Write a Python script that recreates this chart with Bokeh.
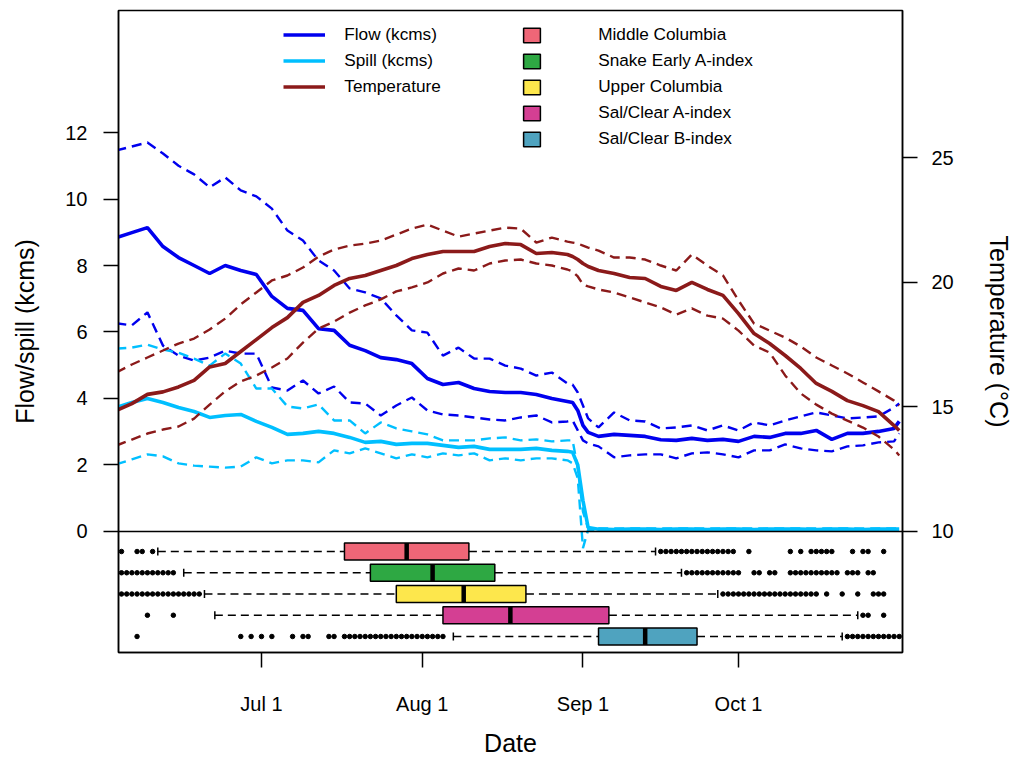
import pandas as pd
from bokeh.plotting import figure
from bokeh.models import (Range1d, LinearAxis, FixedTicker, Span, Legend, LegendItem,
                          ColumnDataSource)
from bokeh.embed import file_html
from bokeh.resources import INLINE

FONT = "Liberation Sans"

# ---------------- daily river conditions (median and interval) ----------------
dates = [
    "2021-06-03", "2021-06-06", "2021-06-09", "2021-06-12", "2021-06-15",
    "2021-06-18", "2021-06-21", "2021-06-24", "2021-06-27", "2021-06-30",
    "2021-07-03", "2021-07-06", "2021-07-09", "2021-07-12", "2021-07-15",
    "2021-07-18", "2021-07-21", "2021-07-24", "2021-07-27", "2021-07-30",
    "2021-08-02", "2021-08-05", "2021-08-08", "2021-08-11", "2021-08-14",
    "2021-08-17", "2021-08-20", "2021-08-23", "2021-08-26", "2021-08-29",
    "2021-08-30", "2021-08-31", "2021-09-01", "2021-09-02",
    "2021-09-04", "2021-09-07", "2021-09-10", "2021-09-13", "2021-09-16",
    "2021-09-19", "2021-09-22", "2021-09-25", "2021-09-28", "2021-10-01",
    "2021-10-04", "2021-10-07", "2021-10-10", "2021-10-13", "2021-10-16",
    "2021-10-19", "2021-10-22", "2021-10-25", "2021-10-28", "2021-10-31",
    "2021-11-01",
]

flow_med = [8.84, 8.99, 9.14, 8.57, 8.24, 8.0, 7.76, 8.0, 7.85, 7.73,
            7.07, 6.71, 6.65, 6.1, 6.05, 5.6, 5.44, 5.23, 5.17, 5.05,
            4.6, 4.42, 4.48, 4.3, 4.21, 4.18, 4.18, 4.12, 4.0, 3.91,
            3.88, 3.64, 3.19, 2.98,
            2.86, 2.92, 2.89, 2.86, 2.76, 2.74, 2.8, 2.74, 2.77, 2.71,
            2.86, 2.83, 2.95, 2.95, 3.04, 2.77, 2.95, 2.95, 3.01, 3.1,
            3.31]
flow_hi = [11.46, 11.58, 11.7, 11.37, 11.0, 10.74, 10.35, 10.65, 10.26, 10.08,
           9.71, 9.05, 8.75, 8.15, 7.85, 7.31, 7.19, 7.01, 6.5, 6.05,
           5.98, 5.29, 5.53, 5.2, 5.2, 4.99, 4.9, 4.69, 4.78, 4.45,
           4.42, 4.18, 3.79, 3.4,
           3.13, 3.58, 3.34, 3.31, 3.1, 3.13, 3.19, 3.04, 3.19, 3.04,
           3.28, 3.19, 3.34, 3.46, 3.58, 3.49, 3.4, 3.43, 3.46, 3.73,
           3.85]
flow_lo = [6.26, 6.2, 6.59, 5.59, 5.29, 5.14, 5.23, 5.44, 5.35, 5.35,
           4.33, 4.24, 4.54, 4.15, 4.36, 3.88, 3.85, 3.49, 3.79, 4.03,
           3.64, 3.52, 3.49, 3.43, 3.37, 3.34, 3.43, 3.49, 3.28, 3.31,
           3.34, 3.04, 2.74, 2.65,
           2.56, 2.23, 2.29, 2.32, 2.32, 2.2, 2.35, 2.38, 2.32, 2.23,
           2.44, 2.44, 2.62, 2.5, 2.44, 2.41, 2.56, 2.59, 2.68, 2.71,
           2.95]

spill_med = [3.73, 3.88, 4.0, 3.88, 3.73, 3.61, 3.43, 3.49, 3.52, 3.31,
             3.13, 2.92, 2.95, 3.01, 2.95, 2.83, 2.68, 2.71, 2.62, 2.65,
             2.65, 2.59, 2.53, 2.56, 2.47, 2.47, 2.47, 2.5, 2.44, 2.41,
             2.38, 2.0, 0.93, 0.12,
             0.07, 0.06, 0.07, 0.07, 0.06, 0.07, 0.07, 0.06, 0.07, 0.07,
             0.06, 0.07, 0.07, 0.07, 0.06, 0.07, 0.07, 0.06, 0.07, 0.07,
             0.07]
spill_hi = [5.5, 5.53, 5.62, 5.47, 5.38, 5.2, 4.99, 5.35, 5.05, 4.3,
            4.3, 3.76, 3.7, 3.82, 3.34, 3.34, 2.95, 3.28, 3.1, 3.01,
            2.92, 2.74, 2.74, 2.74, 2.8, 2.83, 2.74, 2.77, 2.71, 2.74,
            2.74, 1.9, 0.6, 0.09,
            0.09, 0.09, 0.09, 0.09, 0.09, 0.09, 0.09, 0.09, 0.09, 0.09,
            0.09, 0.09, 0.09, 0.09, 0.09, 0.09, 0.09, 0.09, 0.09, 0.09,
            0.09]
spill_lo = [2.02, 2.17, 2.32, 2.26, 2.05, 1.98, 1.95, 1.92, 1.95, 2.23,
            2.05, 2.14, 2.14, 2.08, 2.44, 2.35, 2.5, 2.35, 2.2, 2.32,
            2.23, 2.35, 2.29, 2.35, 2.14, 2.2, 2.14, 2.2, 2.2, 2.14,
            2.05, 1.6, -0.5, 0.05,
            0.05, 0.05, 0.05, 0.05, 0.05, 0.05, 0.05, 0.05, 0.05, 0.05,
            0.05, 0.05, 0.05, 0.05, 0.05, 0.05, 0.05, 0.05, 0.05, 0.05,
            0.05]

temp_med = [14.85, 15.13, 15.5, 15.6, 15.8, 16.06, 16.6, 16.74, 17.22, 17.7,
            18.18, 18.58, 19.19, 19.47, 19.87, 20.15, 20.27, 20.47, 20.67, 20.95,
            21.11, 21.23, 21.23, 21.23, 21.43, 21.55, 21.51, 21.15, 21.19, 21.11,
            21.03, 20.91, 20.75, 20.63,
            20.47, 20.35, 20.19, 20.15, 19.83, 19.67, 19.99, 19.71, 19.47, 18.74,
            17.94, 17.54, 17.06, 16.54, 15.94, 15.62, 15.25, 15.05, 14.81, 14.25,
            14.05]
temp_hi = [16.38, 16.7, 16.98, 17.26, 17.54, 17.74, 18.1, 18.54, 19.11, 19.59,
           20.07, 20.27, 20.59, 21.03, 21.31, 21.47, 21.55, 21.67, 21.91, 22.15,
           22.31, 22.07, 21.83, 21.95, 22.07, 22.19, 22.15, 21.59, 21.79, 21.63,
           21.59, 21.55, 21.47, 21.39,
           21.27, 20.99, 20.99, 20.91, 20.67, 20.47, 21.11, 20.67, 20.27, 19.27,
           18.34, 18.06, 17.78, 17.42, 16.98, 16.66, 16.34, 15.98, 15.62, 15.25,
           15.05]
temp_lo = [13.45, 13.69, 13.93, 14.09, 14.21, 14.53, 15.09, 15.62, 16.02, 16.26,
           16.58, 16.94, 17.58, 18.14, 18.42, 18.78, 19.07, 19.31, 19.63, 19.79,
           19.99, 20.35, 20.55, 20.47, 20.75, 20.87, 20.91, 20.75, 20.67, 20.51,
           20.43, 20.23, 19.91, 19.83,
           19.71, 19.59, 19.39, 19.19, 18.99, 18.7, 18.95, 18.66, 18.54, 18.06,
           17.46, 17.18, 16.26, 15.54, 15.09, 14.73, 14.45, 14.17, 13.81, 13.29,
           13.05]

# ---------------- passage timing by stock (days after 1 July) ----------------
stocks = ["Middle Columbia", "Snake Early A-index", "Upper Columbia",
          "Sal/Clear A-index", "Sal/Clear B-index"]
stock_colors = ["#EF6677", "#2EA843", "#FDE74C", "#D43F93", "#4FA3BF"]
whisker_lo = [-20, -15, -11, -9, 37]
q1 = [16, 21, 26, 35, 65]
q2 = [28, 33, 39, 48, 74]
q3 = [40, 45, 51, 67, 84]
whisker_hi = [76, 81, 88, 115, 112]
outliers = [
    [-27, -24, -23, -21, 77, 78, 79, 80, 81, 82, 83, 84, 85, 86, 87, 88, 89, 90,
     91, 94, 102, 104, 106, 107, 108, 109, 110, 114, 116, 117, 120],
    [-27, -26, -25, -24, -23, -22, -21, -20, -19, -18, -17, 82, 83, 84, 85, 86,
     87, 88, 89, 90, 91, 92, 95, 96, 98, 99, 102, 103, 104, 105, 106, 107, 108,
     109, 110, 111, 113, 114, 115, 117, 118],
    [-27, -26, -25, -24, -23, -22, -21, -20, -19, -18, -17, -16, -15, -14, -13,
     -12, 89, 90, 91, 92, 93, 94, 95, 96, 97, 98, 99, 100, 101, 102, 103, 104,
     105, 106, 107, 109, 112, 115, 118, 119, 120],
    [-22, -17, 116, 117, 120],
    [-24, -4, -2, 0, 2, 6, 8, 9, 13, 14, 16, 17, 18, 19, 20, 21, 22, 23, 24, 25,
     26, 27, 28, 29, 30, 31, 32, 33, 34, 35, 113, 114, 115, 116, 117, 118, 119,
     120, 121, 122, 123],
]

tick_dates = ["2021-07-01", "2021-08-01", "2021-09-01", "2021-10-01"]
tick_labels = ["Jul 1", "Aug 1", "Sep 1", "Oct 1"]

FLOW_C = "#0000EE"
SPILL_C = "#00BFFF"
TEMP_C = "#8B1A1A"

# ---------------- sources ----------------
t = pd.to_datetime(dates)
src = ColumnDataSource(dict(date=t, flow_med=flow_med, flow_hi=flow_hi, flow_lo=flow_lo,
                            spill_med=spill_med, spill_hi=spill_hi, spill_lo=spill_lo,
                            temp_med=temp_med, temp_hi=temp_hi, temp_lo=temp_lo))

base = pd.Timestamp("2021-07-01")


def day(v):
    return base + pd.to_timedelta(v, unit="D")


n = len(stocks)
row = [n - i for i in range(n)]            # top row first
box_src = ColumnDataSource(dict(
    y=row, color=stock_colors,
    wlo=[day(v) for v in whisker_lo], q1=[day(v) for v in q1],
    q2=[day(v) for v in q2], q3=[day(v) for v in q3],
    whi=[day(v) for v in whisker_hi],
    top=[r + 0.4 for r in row], bot=[r - 0.4 for r in row],
    stop=[r + 0.19 for r in row], sbot=[r - 0.19 for r in row],
))
ox, oy = [], []
for i, vals in enumerate(outliers):
    ox += [day(v) for v in vals]
    oy += [row[i]] * len(vals)
out_src = ColumnDataSource(dict(x=ox, y=oy))

# ---------------- figure ----------------
x0 = pd.Timestamp("2021-06-03 10:05")
x1 = pd.Timestamp("2021-11-01 15:07")
p = figure(width=1021, height=759, x_axis_type="datetime",
           x_range=Range1d(x0, x1), y_range=Range1d(-3.64, 15.67),
           output_backend="svg", toolbar_location=None,
           min_border_left=118, min_border_right=119,
           min_border_top=10, min_border_bottom=107)
p.extra_y_ranges = {"temp": Range1d(5.146, 30.9), "box": Range1d(0.247, 30.46)}
p.xgrid.visible = False
p.ygrid.visible = False
p.outline_line_color = "black"
p.outline_line_width = 1.5
p.background_fill_color = "white"
p.border_fill_color = "white"

right = LinearAxis(y_range_name="temp", ticker=FixedTicker(ticks=[10, 15, 20, 25]),
                   axis_label="Temperature (\u00b0C)")
p.add_layout(right, "right")

xax = p.xaxis[0]
yax = p.yaxis[0]
tick_ms = [pd.Timestamp(d).value // 10**6 for d in tick_dates]
xax.ticker = FixedTicker(ticks=tick_ms)
xax.major_label_overrides = {ms: lab for ms, lab in zip(tick_ms, tick_labels)}
xax.axis_label = "Date"
yax.ticker = FixedTicker(ticks=[0, 2, 4, 6, 8, 10, 12])
yax.axis_label = "Flow/spill (kcms)"

for ax in (xax, yax, right):
    ax.major_tick_out = 15
    ax.major_tick_in = 0
    ax.minor_tick_out = 0
    ax.minor_tick_in = 0
    ax.major_tick_line_color = "black"
    ax.major_tick_line_width = 1.5
    ax.axis_line_color = "black"
    ax.axis_line_width = 1.5
    ax.major_label_text_font = FONT
    ax.major_label_text_font_size = "20px"
    ax.major_label_text_color = "black"
    ax.axis_label_text_font = FONT
    ax.axis_label_text_font_size = "25px"
    ax.axis_label_text_font_style = "normal"
    ax.axis_label_text_color = "black"

xax.major_label_standoff = 25
xax.axis_label_standoff = 11
yax.major_label_standoff = 16
yax.axis_label_standoff = 23
right.major_label_standoff = 14
right.axis_label_standoff = 28

# separator between the conditions panel and the timing panel
p.add_layout(Span(location=0, dimension="width", line_color="black", line_width=1.5))

# ---------------- series ----------------
DASH = "10 6"
DW = 2.4
SW = 3.6
p.line("date", "flow_hi", source=src, color=FLOW_C, line_width=DW, line_dash=DASH)
p.line("date", "flow_lo", source=src, color=FLOW_C, line_width=DW, line_dash=DASH)
flow_r = p.line("date", "flow_med", source=src, color=FLOW_C, line_width=SW)
p.line("date", "spill_hi", source=src, color=SPILL_C, line_width=DW, line_dash=DASH)
p.line("date", "spill_lo", source=src, color=SPILL_C, line_width=DW, line_dash=DASH)
spill_r = p.line("date", "spill_med", source=src, color=SPILL_C, line_width=SW)
p.line("date", "temp_hi", source=src, color=TEMP_C, line_width=DW, line_dash=DASH,
       y_range_name="temp")
p.line("date", "temp_lo", source=src, color=TEMP_C, line_width=DW, line_dash=DASH,
       y_range_name="temp")
temp_r = p.line("date", "temp_med", source=src, color=TEMP_C, line_width=SW,
                y_range_name="temp")

# ---------------- box plots ----------------
WD = "8 5"
p.segment(x0="wlo", y0="y", x1="q1", y1="y", source=box_src, y_range_name="box",
          line_color="black", line_width=1.5, line_dash=WD)
p.segment(x0="q3", y0="y", x1="whi", y1="y", source=box_src, y_range_name="box",
          line_color="black", line_width=1.5, line_dash=WD)
p.segment(x0="wlo", y0="sbot", x1="wlo", y1="stop", source=box_src, y_range_name="box",
          line_color="black", line_width=1.5)
p.segment(x0="whi", y0="sbot", x1="whi", y1="stop", source=box_src, y_range_name="box",
          line_color="black", line_width=1.5)
box_r = p.hbar(y="y", left="q1", right="q3", height=0.8, source=box_src,
               y_range_name="box", fill_color="color", line_color="black",
               line_width=1.5)
p.segment(x0="q2", y0="bot", x1="q2", y1="top", source=box_src, y_range_name="box",
          line_color="black", line_width=4.5, line_cap="butt")
p.scatter("x", "y", source=out_src, y_range_name="box", size=4.5, color="black")

# ---------------- legends ----------------
leg_common = dict(padding=0, margin=0, spacing=5, label_height=21,
                  border_line_color=None, background_fill_alpha=0,
                  label_text_font=FONT, label_text_font_size="17.2px",
                  label_text_color="black")
leg1 = Legend(items=[LegendItem(label="Flow (kcms)", renderers=[flow_r]),
                     LegendItem(label="Spill (kcms)", renderers=[spill_r]),
                     LegendItem(label="Temperature", renderers=[temp_r])],
              location=(165.3, 555), glyph_width=42, glyph_height=21,
              label_standoff=19, **leg_common)
leg2 = Legend(items=[LegendItem(label=s, renderers=[box_r], index=i)
                     for i, s in enumerate(stocks)],
              location=(403.2, 503), glyph_width=21, glyph_height=18,
              label_standoff=56, **leg_common)
p.add_layout(leg1)
p.add_layout(leg2)

open("out.html", "w").write(file_html(p, INLINE))
